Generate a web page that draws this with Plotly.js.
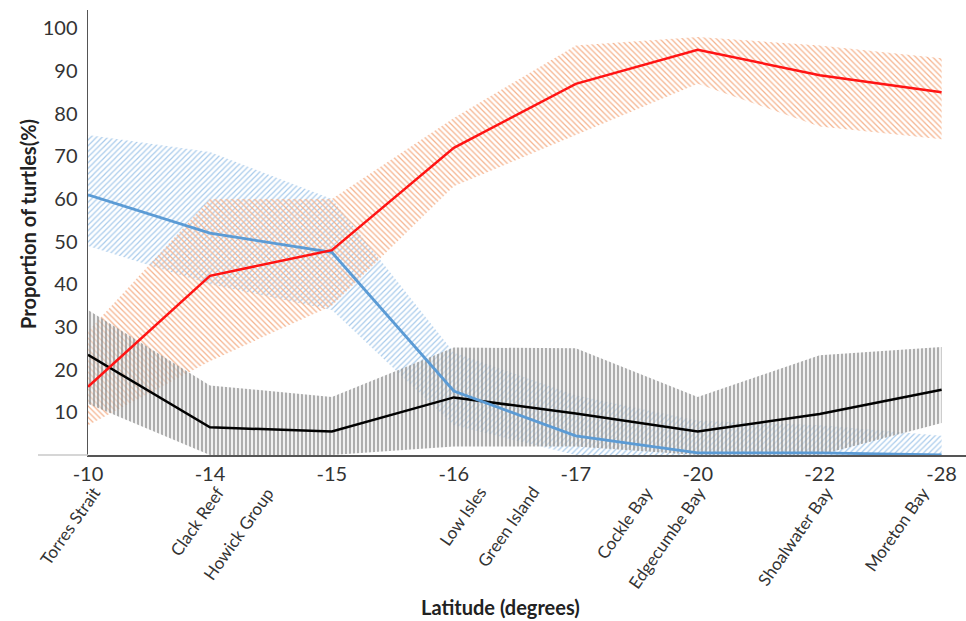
<!DOCTYPE html>
<html>
<head>
<meta charset="utf-8">
<script src="https://cdn.plot.ly/plotly-3.0.1.min.js"></script>
<style>html,body{margin:0;padding:0;background:#fff;}#chart{width:966px;height:621px;}</style>
</head>
<body>
<div id="chart"></div>
<script>
// Category positions (index along the latitude axis) and tick labels
const latIndex = [0, 1, 2, 3, 4, 5, 6, 7];
const latLabels = ['-10', '-14', '-15', '-16', '-17', '-20', '-22', '-28'];
const siteNames = ['Torres Strait', 'Clack Reef', 'Howick Group', 'Low Isles', 'Green Island',
                   'Cockle Bay', 'Edgecumbe Bay', 'Shoalwater Bay', 'Moreton Bay'];

// Red series (mean, upper, lower)
const redMean  = [16, 42, 48, 72, 87, 95, 89, 85];
const redUpper = [29, 60, 60, 79, 96, 98, 96, 93];
const redLower = [7, 22, 35, 63, 75, 87, 77, 74];

// Blue series
const blueMean  = [61, 52, 47.5, 15, 4.5, 0.5, 0.5, 0];
const blueUpper = [75, 71, 60, 24, 14, 8, 7, 4.5];
const blueLower = [49, 40, 34, 7, 0, 0, 0, 0];

// Black series
const blackMean  = [23.5, 6.5, 5.5, 13.5, 9.7, 5.5, 9.6, 15.3];
const blackUpper = [34, 16.3, 13.6, 25.2, 25, 13.6, 23.4, 25.3];
const blackLower = [12, 0, 0, 2, 2, 0, 0, 7.5];

// Layout-only positions for the rotated site labels (right end, in axis units)
const siteLabelRight = [0.16, 1.17, 1.58, 3.32, 3.76, 4.69, 5.12, 6.16, 6.96];

function band(upper, lower, shape, fg, bg, size, sol) {
  return {
    x: latIndex.concat(latIndex.slice().reverse()),
    y: upper.concat(lower.slice().reverse()),
    type: 'scatter', mode: 'lines', fill: 'toself',
    line: {width: 0, color: 'rgba(0,0,0,0)'},
    fillcolor: 'rgba(0,0,0,0)',
    fillpattern: {shape: shape, fgcolor: fg, bgcolor: bg, size: size, solidity: sol},
    hoverinfo: 'skip', showlegend: false
  };
}
function line(y, color, w) {
  return {x: latIndex, y: y, type: 'scatter', mode: 'lines',
          line: {color: color, width: w}, showlegend: false};
}

const traces = [
  band(blueUpper, blueLower, '/', '#a9cbeb', 'rgba(255,255,255,0)', 4, 0.3),
  band(redUpper, redLower, '\\', '#f5b38e', 'rgba(255,255,255,0)', 4, 0.32),
  band(blackUpper, blackLower, '|', '#808080', 'rgba(228,228,228,0.5)', 4, 0.3),
  line(blackMean, '#000000', 2.5),
  line(blueMean, '#5b9bd5', 2.8),
  line(redMean, '#ff1414', 2.5)
];

const font = 'Lato, "Open Sans", "DejaVu Sans", sans-serif';
const annotations = siteNames.map((s, i) => ({
  text: s, x: siteLabelRight[i], xref: 'x', y: 0, yref: 'paper',
  xanchor: 'right', yanchor: 'top', yshift: -25, textangle: -55,
  showarrow: false, font: {family: font, size: 17, color: '#333333'}
}));
annotations.push({
  text: '<b>Latitude (degrees)</b>', x: (500 - 88) / 878, xref: 'paper', y: 0, yref: 'paper',
  showarrow: false, xanchor: 'center', yanchor: 'middle', yshift: -152,
  font: {family: font, size: 20, color: '#222222'}
});
annotations.push({
  text: '<b>Proportion of turtles(%)</b>', x: (28 - 88) / 878, xref: 'paper',
  y: (455 - 224) / 445, yref: 'paper', textangle: -90,
  showarrow: false, xanchor: 'center', yanchor: 'middle',
  font: {family: font, size: 20, color: '#222222'}
});

const layout = {
  width: 966, height: 621,
  margin: {l: 88, r: 0, t: 10, b: 166},
  paper_bgcolor: '#ffffff', plot_bgcolor: '#ffffff',
  showlegend: false,
  xaxis: {
    range: [0, 7.2], tickvals: latIndex, ticktext: latLabels,
    showgrid: false, zeroline: false, showline: true, linecolor: '#555555', linewidth: 1.5,
    ticks: '', tickfont: {family: font, size: 20, color: '#333333'}
  },
  yaxis: {
    range: [0, 104.3], tickvals: [10, 20, 30, 40, 50, 60, 70, 80, 90, 100],
    showgrid: false, zeroline: false, showline: true, linecolor: '#555555', linewidth: 1.5,
    ticks: '', ticklabelstandoff: 5, tickfont: {family: font, size: 20, color: '#333333'}
  },
  shapes: [{
    type: 'line', xref: 'paper', yref: 'paper', x0: (38 - 88) / 878, x1: 0, y0: 0, y1: 0,
    line: {color: '#c8c8c8', width: 1.5}
  }],
  annotations: annotations
};

Plotly.newPlot('chart', traces, layout, {staticPlot: true});
</script>
</body>
</html>
